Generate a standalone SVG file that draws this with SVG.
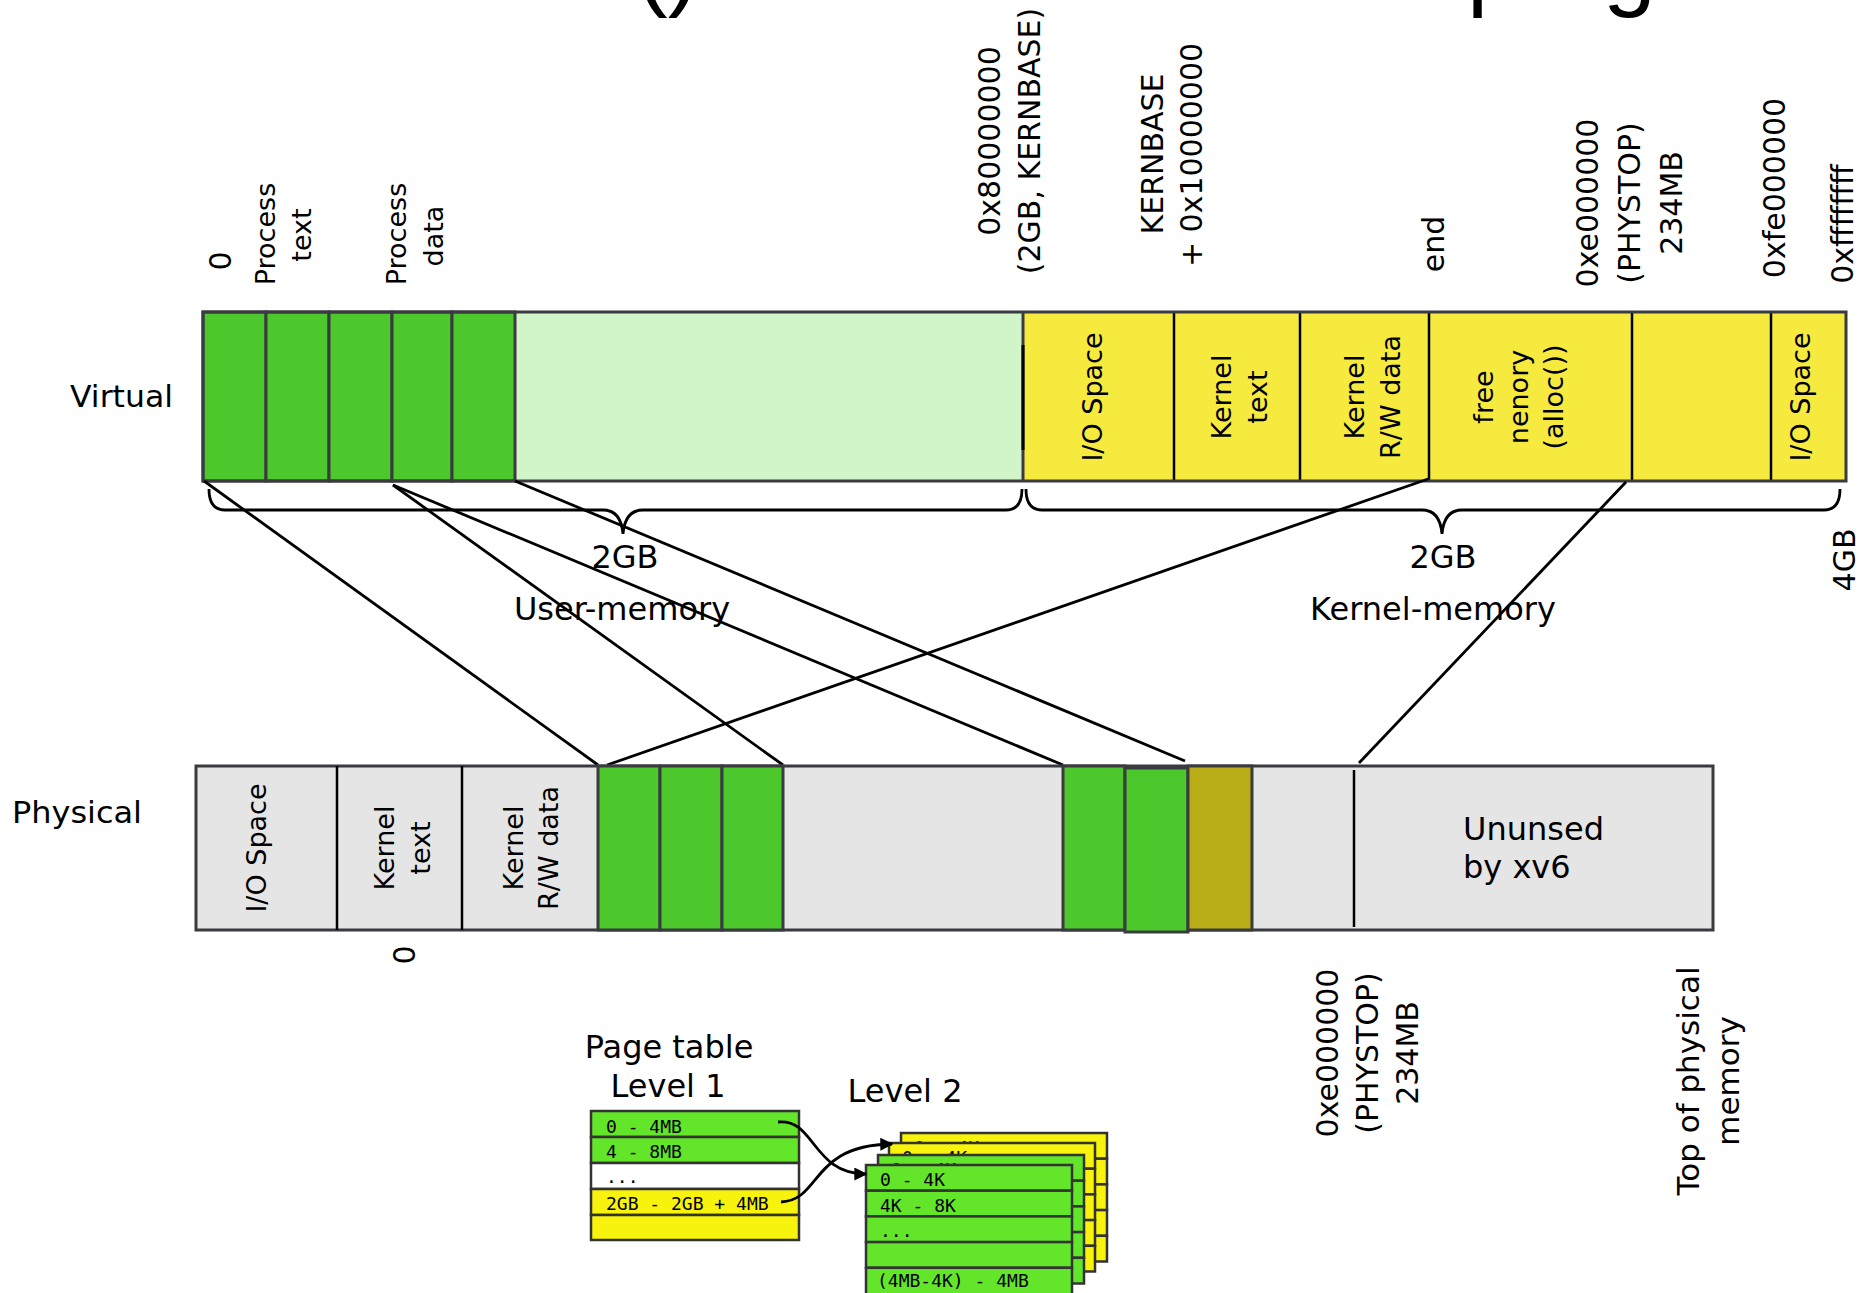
<svg xmlns="http://www.w3.org/2000/svg" width="1872" height="1293" viewBox="0 0 1872 1293">
<style>
 text{font-family:"DejaVu Sans","Liberation Sans",sans-serif;fill:#000}
 .s27{font-size:27px}
 .s30{font-size:30px}
 .s31{font-size:31px}
 .s32{font-size:32px}
 .mono{font-family:"DejaVu Sans Mono","Liberation Mono",monospace;font-size:18px}
 .ttl{font-family:"Liberation Sans",sans-serif;font-size:95px}
 .gc{fill:#4cc72c;stroke:#3a3b40;stroke-width:3}
 .ol{fill:#b8ad17;stroke:#3a3b40;stroke-width:3}
 .div{stroke:#000;stroke-width:2.5}
 .conn{stroke:#000;stroke-width:2.8;fill:none}
 .pg{fill:#63e52a;stroke:#333;stroke-width:2.5}
 .py{fill:#f7f30c;stroke:#333;stroke-width:2.5}
 .pw{fill:#fff;stroke:#333;stroke-width:2.5}
 .arr{stroke:#000;stroke-width:2.8;fill:none}
</style>
<defs>
 <marker id="ah" viewBox="0 0 10 10" refX="9" refY="5" markerWidth="13" markerHeight="13" markerUnits="userSpaceOnUse" orient="auto">
  <path d="M0,0 L10,5 L0,10 z" fill="#000"/>
 </marker>
</defs>
<rect width="1872" height="1293" fill="#fff"/>

<!-- cropped title fragments -->
<g id="title">
 <text class="ttl" x="636" y="-2">()</text>
 <text class="ttl" x="1467" y="-2">p</text>
 <text class="ttl" x="1603" y="-2">g</text>
</g>

<!-- top address labels -->
<g id="top-labels">
 <text class="s30" text-anchor="middle" transform="translate(231,261) rotate(-90)">0</text>
 <text class="s27" text-anchor="middle" transform="translate(275,234) rotate(-90)">Process</text>
 <text class="s27" text-anchor="middle" transform="translate(311,235) rotate(-90)">text</text>
 <text class="s27" text-anchor="middle" transform="translate(406,234) rotate(-90)">Process</text>
 <text class="s27" text-anchor="middle" transform="translate(443,236) rotate(-90)">data</text>
 <text class="s30" text-anchor="middle" transform="translate(1000,141) rotate(-90)">0x80000000</text>
 <text class="s30" text-anchor="middle" transform="translate(1040,141) rotate(-90)">(2GB, KERNBASE)</text>
 <text class="s30" text-anchor="middle" transform="translate(1163,154) rotate(-90)">KERNBASE</text>
 <text class="s30" text-anchor="middle" transform="translate(1202,155) rotate(-90)">+ 0x10000000</text>
 <text class="s30" text-anchor="middle" transform="translate(1444,244) rotate(-90)">end</text>
 <text class="s30" text-anchor="middle" transform="translate(1598,203) rotate(-90)">0xe000000</text>
 <text class="s30" text-anchor="middle" transform="translate(1640,203) rotate(-90)">(PHYSTOP)</text>
 <text class="s30" text-anchor="middle" transform="translate(1682,203) rotate(-90)">234MB</text>
 <text class="s30" text-anchor="middle" transform="translate(1785,188) rotate(-90)">0xfe000000</text>
 <text class="s30" text-anchor="middle" transform="translate(1853,224) rotate(-90)">0xffffffff</text>
</g>

<g id="virtual">
 <text class="s31" x="70" y="407" textLength="103" lengthAdjust="spacingAndGlyphs">Virtual</text>
 <rect x="515" y="312" width="508" height="169" fill="#d1f5c8"/>
 <rect x="1023" y="312" width="823" height="169" fill="#f6ea3e"/>
 <rect class="gc" x="203" y="312" width="63" height="169"/>
 <rect class="gc" x="266" y="312" width="63" height="169"/>
 <rect class="gc" x="329" y="312" width="63" height="169"/>
 <rect class="gc" x="392" y="312" width="60" height="169"/>
 <rect class="gc" x="452" y="312" width="63" height="169"/>
 <line class="div" x1="1174" y1="312" x2="1174" y2="481"/>
 <line class="div" x1="1300" y1="312" x2="1300" y2="481"/>
 <line class="div" x1="1429" y1="312" x2="1429" y2="481"/>
 <line class="div" x1="1632" y1="312" x2="1632" y2="481"/>
 <line class="div" x1="1771" y1="312" x2="1771" y2="481"/>
 <line x1="1023" y1="312" x2="1023" y2="481" stroke="#3a3b40" stroke-width="3"/>
 <line x1="1023" y1="345" x2="1023" y2="450" stroke="#000" stroke-width="3"/>
 <rect x="203" y="312" width="1643" height="169" fill="none" stroke="#3a3b40" stroke-width="3"/>
 <text class="s27" text-anchor="middle" transform="translate(1102,397) rotate(-90)">I/O Space</text>
 <text class="s27" text-anchor="middle" transform="translate(1231,397) rotate(-90)">Kernel</text>
 <text class="s27" text-anchor="middle" transform="translate(1267,397) rotate(-90)">text</text>
 <text class="s27" text-anchor="middle" transform="translate(1364,397) rotate(-90)">Kernel</text>
 <text class="s27" text-anchor="middle" transform="translate(1400,397) rotate(-90)">R/W data</text>
 <text class="s27" text-anchor="middle" transform="translate(1493,397) rotate(-90)">free</text>
 <text class="s27" text-anchor="middle" transform="translate(1528,397) rotate(-90)">nenory</text>
 <text class="s27" text-anchor="middle" transform="translate(1563,397) rotate(-90)">(alloc())</text>
 <text class="s27" text-anchor="middle" transform="translate(1810,397) rotate(-90)">I/O Space</text>
</g>

<g id="braces">
 <path class="conn" d="M209 489 Q209 510 225 510 L603 510 Q621 510 623 534 Q625 510 643 510 L1006 510 Q1022 510 1022 489"/>
 <path class="conn" d="M1026 489 Q1026 510 1042 510 L1422 510 Q1440 510 1442 534 Q1444 510 1462 510 L1824 510 Q1840 510 1840 489"/>
 <text class="s32" text-anchor="middle" x="625" y="568">2GB</text>
 <text class="s32" text-anchor="middle" x="622" y="620">User-memory</text>
 <text class="s32" text-anchor="middle" x="1443" y="568">2GB</text>
 <text class="s32" text-anchor="middle" x="1433" y="620">Kernel-memory</text>
 <text class="s30" text-anchor="middle" transform="translate(1855,560) rotate(-90)">4GB</text>
</g>

<g id="connectors">
 <line class="conn" x1="204" y1="481" x2="598" y2="765"/>
 <line class="conn" x1="393" y1="485" x2="783" y2="765"/>
 <line class="conn" x1="393" y1="485" x2="1063" y2="765"/>
 <line class="conn" x1="515" y1="481" x2="1185" y2="761"/>
 <line class="conn" x1="1428" y1="479" x2="607" y2="765"/>
 <line class="conn" x1="1626" y1="482" x2="1359" y2="763"/>
</g>

<g id="physical">
 <text class="s31" x="12" y="823" textLength="130" lengthAdjust="spacingAndGlyphs">Physical</text>
 <rect x="196" y="766" width="1517" height="164" fill="#e5e5e5" stroke="#3a3b40" stroke-width="3"/>
 <line class="div" x1="337" y1="766" x2="337" y2="930"/>
 <line class="div" x1="462" y1="766" x2="462" y2="930"/>
 <line class="div" x1="1354" y1="770" x2="1354" y2="927"/>
 <rect class="gc" x="598" y="766" width="62" height="164"/>
 <rect class="gc" x="660" y="766" width="62" height="164"/>
 <rect class="gc" x="722" y="766" width="61" height="164"/>
 <rect class="gc" x="1063" y="766" width="62" height="164"/>
 <rect class="gc" x="1125" y="768" width="63" height="164"/>
 <rect class="ol" x="1188" y="766" width="64" height="164"/>
 <text class="s27" text-anchor="middle" transform="translate(266,848) rotate(-90)">I/O Space</text>
 <text class="s27" text-anchor="middle" transform="translate(394,848) rotate(-90)">Kernel</text>
 <text class="s27" text-anchor="middle" transform="translate(430,848) rotate(-90)">text</text>
 <text class="s27" text-anchor="middle" transform="translate(523,848) rotate(-90)">Kernel</text>
 <text class="s27" text-anchor="middle" transform="translate(558,848) rotate(-90)">R/W data</text>
 <text class="s32" x="1463" y="840">Ununsed</text>
 <text class="s32" x="1463" y="878">by xv6</text>
</g>

<g id="bottom-labels">
 <text class="s30" text-anchor="middle" transform="translate(415,955) rotate(-90)">0</text>
 <text class="s30" text-anchor="middle" transform="translate(1338,1053) rotate(-90)">0xe000000</text>
 <text class="s30" text-anchor="middle" transform="translate(1378,1053) rotate(-90)">(PHYSTOP)</text>
 <text class="s30" text-anchor="middle" transform="translate(1418,1053) rotate(-90)">234MB</text>
 <text class="s31" text-anchor="middle" transform="translate(1699,1081) rotate(-90)">Top of physical</text>
 <text class="s31" text-anchor="middle" transform="translate(1739,1081) rotate(-90)">memory</text>
</g>

<g id="page-table-level1">
 <text class="s32" text-anchor="middle" x="669" y="1058">Page table</text>
 <text class="s32" text-anchor="middle" x="668" y="1097">Level 1</text>
 <rect class="pg" x="591" y="1111" width="208" height="26"/>
 <rect class="pg" x="591" y="1137" width="208" height="26"/>
 <rect class="pw" x="591" y="1163" width="208" height="26"/>
 <rect class="py" x="591" y="1189" width="208" height="26"/>
 <rect class="py" x="591" y="1215" width="208" height="25"/>
 <text class="mono" x="606" y="1133">0 - 4MB</text>
 <text class="mono" x="606" y="1158">4 - 8MB</text>
 <text class="mono" x="606" y="1183">...</text>
 <text class="mono" x="606" y="1210">2GB - 2GB + 4MB</text>
</g>

<g id="page-table-level2">
 <text class="s32" text-anchor="middle" x="905" y="1102">Level 2</text>
 <g id="sheet4">
  <rect class="py" x="901" y="1133" width="206" height="25.7"/>
  <rect class="py" x="901" y="1158.7" width="206" height="25.7"/>
  <rect class="py" x="901" y="1184.4" width="206" height="25.7"/>
  <rect class="py" x="901" y="1210.1" width="206" height="25.7"/>
  <rect class="py" x="901" y="1235.8" width="206" height="25.7"/>
  <text class="mono" x="914" y="1154">0 - 4K</text>
 </g>
 <g id="sheet3">
  <rect class="py" x="889" y="1143" width="206" height="25.7"/>
  <rect class="py" x="889" y="1168.7" width="206" height="25.7"/>
  <rect class="py" x="889" y="1194.4" width="206" height="25.7"/>
  <rect class="py" x="889" y="1220.1" width="206" height="25.7"/>
  <rect class="py" x="889" y="1245.8" width="206" height="25.7"/>
  <text class="mono" x="902" y="1164">0 - 4K</text>
 </g>
 <g id="sheet2">
  <rect class="pg" x="878" y="1155" width="206" height="25.7"/>
  <rect class="pg" x="878" y="1180.7" width="206" height="25.7"/>
  <rect class="pg" x="878" y="1206.4" width="206" height="25.7"/>
  <rect class="pg" x="878" y="1232.1" width="206" height="25.7"/>
  <rect class="pg" x="878" y="1257.8" width="206" height="25.7"/>
  <text class="mono" x="891" y="1176">0 - 4K</text>
 </g>
 <g id="sheet1">
  <rect class="pg" x="866" y="1165" width="206" height="25.7"/>
  <rect class="pg" x="866" y="1190.7" width="206" height="25.7"/>
  <rect class="pg" x="866" y="1216.4" width="206" height="25.7"/>
  <rect class="pg" x="866" y="1242.1" width="206" height="25.7"/>
  <rect class="pg" x="866" y="1267.8" width="206" height="27"/>
  <text class="mono" x="880" y="1186">0 - 4K</text>
  <text class="mono" x="880" y="1212">4K - 8K</text>
  <text class="mono" x="880" y="1237">...</text>
  <text class="mono" x="877" y="1287">(4MB-4K) - 4MB</text>
 </g>
</g>

<g id="pt-connectors">
 <path class="arr" marker-end="url(#ah)" d="M778 1122 C815 1118 812 1174 866 1174"/>
 <path class="arr" marker-end="url(#ah)" d="M781 1202 C822 1200 810 1145 892 1144"/>
</g>
</svg>
